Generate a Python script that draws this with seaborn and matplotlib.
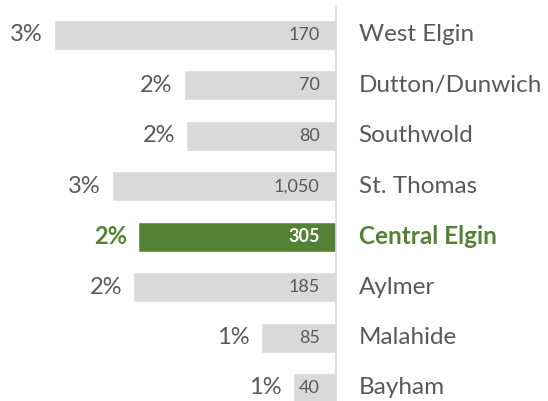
import matplotlib
matplotlib.use("Agg")
import matplotlib.pyplot as plt
import seaborn as sns
import pandas as pd

# share of population by municipality (bar length), with counts inside the bars
places = ["West Elgin", "Dutton/Dunwich", "Southwold", "St. Thomas",
          "Central Elgin", "Aylmer", "Malahide", "Bayham"]
share = [3.36, 1.82, 1.79, 2.67, 2.36, 2.42, 0.90, 0.52]
counts = [170, 70, 80, 1050, 305, 185, 85, 40]
highlight = "Central Elgin"

grey = "#d9d9d9"
green = "#548235"
text_grey = "#595959"

df = pd.DataFrame({"place": places, "share": share, "count": counts})
colours = [green if p == highlight else grey for p in places]

sns.set_style("white")
plt.rcParams["font.family"] = ["Lato", "DejaVu Sans"]

fig = plt.figure(figsize=(5.48, 4.01), dpi=100)
ax = fig.add_axes([0, 0, 1, 1])

sns.barplot(data=df, x="share", y="place", hue="place", palette=colours,
            orient="h", width=0.595, legend=False, ax=ax, saturation=1)

ax.set_xlim(4.005, -2.519)
ax.set_ylim(7.258, -0.694)
ax.plot([0, 0], [-0.555, 7.6], color=grey, lw=1.2, zorder=3)

for i, row in df.iterrows():
    hot = row["place"] == highlight
    col = green if hot else text_grey
    weight = "bold" if hot else "normal"
    # percentage at the outer end of the bar
    ax.annotate(f"{round(row['share'])}%", (row["share"], i), xytext=(-8, 0),
                textcoords="offset points", ha="right", va="center",
                fontsize=17, color=col, fontweight=weight)
    # count inside the bar
    ax.annotate(f"{row['count']:,}", (0, i), xytext=(-12, 0),
                textcoords="offset points", ha="right", va="center",
                fontsize=13, color="white" if hot else text_grey,
                fontweight=weight)
    # municipality name to the right of the axis
    ax.annotate(row["place"], (0, i), xytext=(16, 0),
                textcoords="offset points", ha="left", va="center",
                fontsize=17.5, color=col, fontweight=weight)

ax.axis("off")
fig.savefig("out.png", dpi=100)
